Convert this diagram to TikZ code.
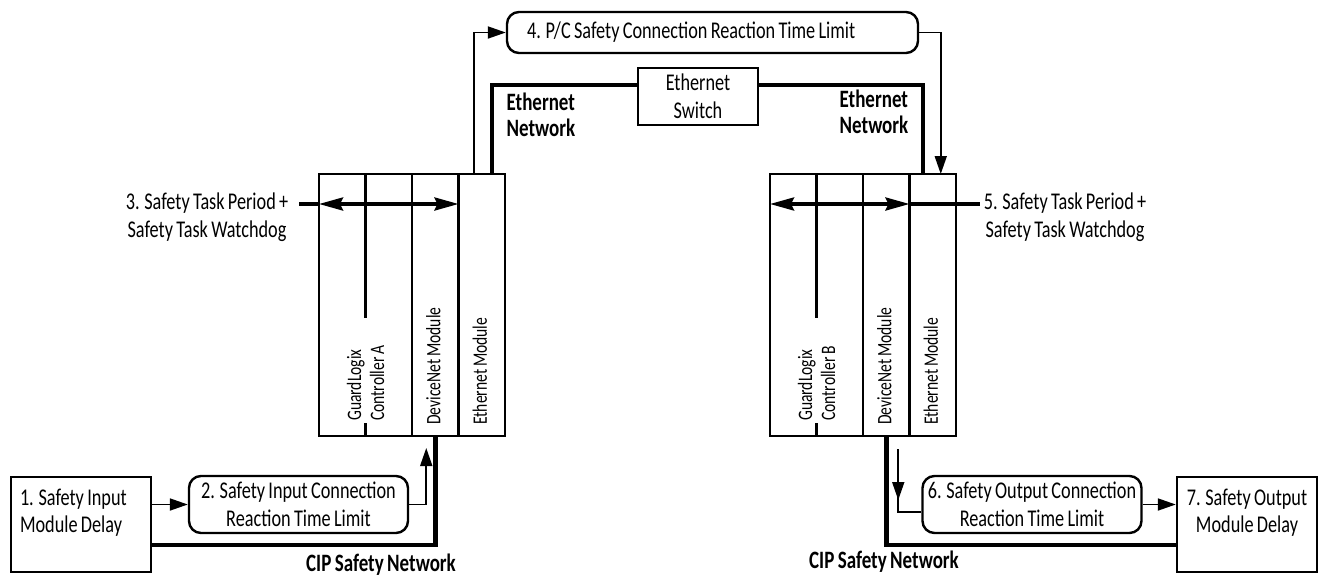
\documentclass[tikz,border=0pt]{standalone}
\usepackage{fontspec}
\setmainfont{Carlito}[FakeStretch=0.76,WordSpace=0.8]
\usetikzlibrary{positioning,arrows.meta}
\tikzset{
  every node/.style={font=\fontsize{24}{27.5}\selectfont},
  box/.style={draw, line width=2.4pt, minimum width=140pt, minimum height=95pt, inner sep=0pt},
  rbox/.style={draw, line width=2.4pt, rounded corners=12pt, minimum width=219pt, minimum height=57pt, inner sep=0pt, align=center},
  rackcol/.style={draw, line width=2.4pt, minimum width=46.5pt, minimum height=262pt, inner sep=0pt, outer sep=0pt},
  vlabel/.style={rotate=90, anchor=west, align=left, inner sep=2pt, font=\fontsize{20.5}{23}\selectfont},
  netlabel/.style={align=left, font=\fontsize{25}{26}\selectfont\bfseries},
  conn/.style={line width=1.8pt},
  net/.style={line width=4.5pt},
  tline/.style={line width=3.5pt},
  tip/.style={-{Triangle[length=18pt,width=12pt]}},
  bigtip/.style={{Stealth[length=24pt,width=13pt,inset=3pt]}-{Stealth[length=24pt,width=13pt,inset=3pt]}}
}
\begin{document}
\begin{tikzpicture}[x=1pt,y=-1pt]
\useasboundingbox (0,0) rectangle (1318,576);
% racks
\node[rackcol, minimum width=93pt] (ctlA) at (365.5,305) {};
\node[rackcol, right=0pt of ctlA] (dnA) {};
\node[rackcol, right=0pt of dnA] (enA) {};
\draw[line width=2.4pt] (ctlA.north) -- ++(0,144);
\draw[line width=2.4pt] (ctlA.south) -- ++(0,-13);
\node[vlabel] (glA) at ([yshift=13pt]ctlA.south) {GuardLogix\\Controller A};
\node[vlabel] (dnlA) at ([xshift=-2pt,yshift=9pt]dnA.south) {DeviceNet Module};
\node[vlabel] (enlA) at ([xshift=-2pt,yshift=9pt]enA.south) {Ethernet Module};

\node[rackcol, minimum width=93pt] (ctlB) at (816.5,305) {};
\node[rackcol, right=0pt of ctlB] (dnB) {};
\node[rackcol, right=0pt of dnB] (enB) {};
\draw[line width=2.4pt] (ctlB.north) -- ++(0,144);
\draw[line width=2.4pt] (ctlB.south) -- ++(0,-13);
\node[vlabel] (glB) at ([yshift=13pt]ctlB.south) {GuardLogix\\Controller B};
\node[vlabel] (dnlB) at ([xshift=-2pt,yshift=9pt]dnB.south) {DeviceNet Module};
\node[vlabel] (enlB) at ([xshift=-2pt,yshift=9pt]enB.south) {Ethernet Module};

% boxes
\node[box, text width=122pt, inner xsep=9pt, align=flush left] (box1) at (81,524.5) {1. Safety Input\\Module Delay\\\mbox{}};
\node[rbox] (box2) at (298.5,504.5) {2. Safety Input Connection\\Reaction Time Limit};
\node[rbox, minimum width=411pt, minimum height=41pt, text width=371pt, inner xsep=20pt, align=flush left] (box4) at (712.5,32.5) {4. P/C Safety Connection Reaction Time Limit};
\node[draw, line width=2.4pt, minimum width=120pt, minimum height=57pt, inner sep=0pt, align=center] (switch) at (698,96.5) {Ethernet\\Switch};
\node[rbox] (box6) at (1032,504.5) {6. Safety Output Connection\\Reaction Time Limit};
\node[box, align=center] (box7) at (1247,524.5) {7. Safety Output\\Module Delay\\\mbox{}};

% labels
\node[align=center] (lbl3) at (207,217) {3. Safety Task Period +\\Safety Task Watchdog};
\node[align=center] (lbl5) at (1065,217) {5. Safety Task Period +\\Safety Task Watchdog};
\node[netlabel] (ethA) at (541,115) {Ethernet\\Network};
\node[netlabel] (ethB) at (874,112) {Ethernet\\Network};
\node[netlabel] (cipA) at (381,565) {CIP Safety Network};
\node[netlabel] (cipB) at (884,562) {CIP Safety Network};

% networks
\coordinate (cip) at (0,545);
\draw[net] (dnA.south) |- (box1.east |- cip);
\draw[net] (dnB.south) |- (box7.west |- cip);
\draw[net] ([xshift=10pt]enA.north) |- ([yshift=11.5pt]switch.west);
\draw[net] ([yshift=11.5pt]switch.east) -| ([xshift=-10pt]enB.north);

% timing arrows
\draw[conn, tip] (box1.east |- box2.west) -- (box2.west);
\draw[conn, tip] (box2.east) -| ([xshift=-9pt,yshift=-12pt]dnA.south);
\draw[conn, tip] ([xshift=-8pt]enA.north) |- (box4.west);
\draw[conn, tip] (box4.east) -| ([xshift=8pt]enB.north);
\coordinate (a6) at ([xshift=12pt,yshift=-13pt]dnB.south);
\draw[conn, tip] (a6) -- ++(0,51);
\draw[conn] (a6) |- ([yshift=-7.5pt]box6.west);
\draw[conn, tip] (box6.east) -- (box7.west |- box6.east);

\coordinate (t3) at (299,204);
\draw[tline] (t3) -- (ctlA.west |- t3);
\draw[tline, bigtip] (ctlA.west |- t3) -- (enA.west |- t3);
\coordinate (t5) at (980,204);
\draw[tline] (enB.west |- t5) -- (t5);
\draw[tline, bigtip] (ctlB.west |- t5) -- (enB.west |- t5);
\end{tikzpicture}
\end{document}
